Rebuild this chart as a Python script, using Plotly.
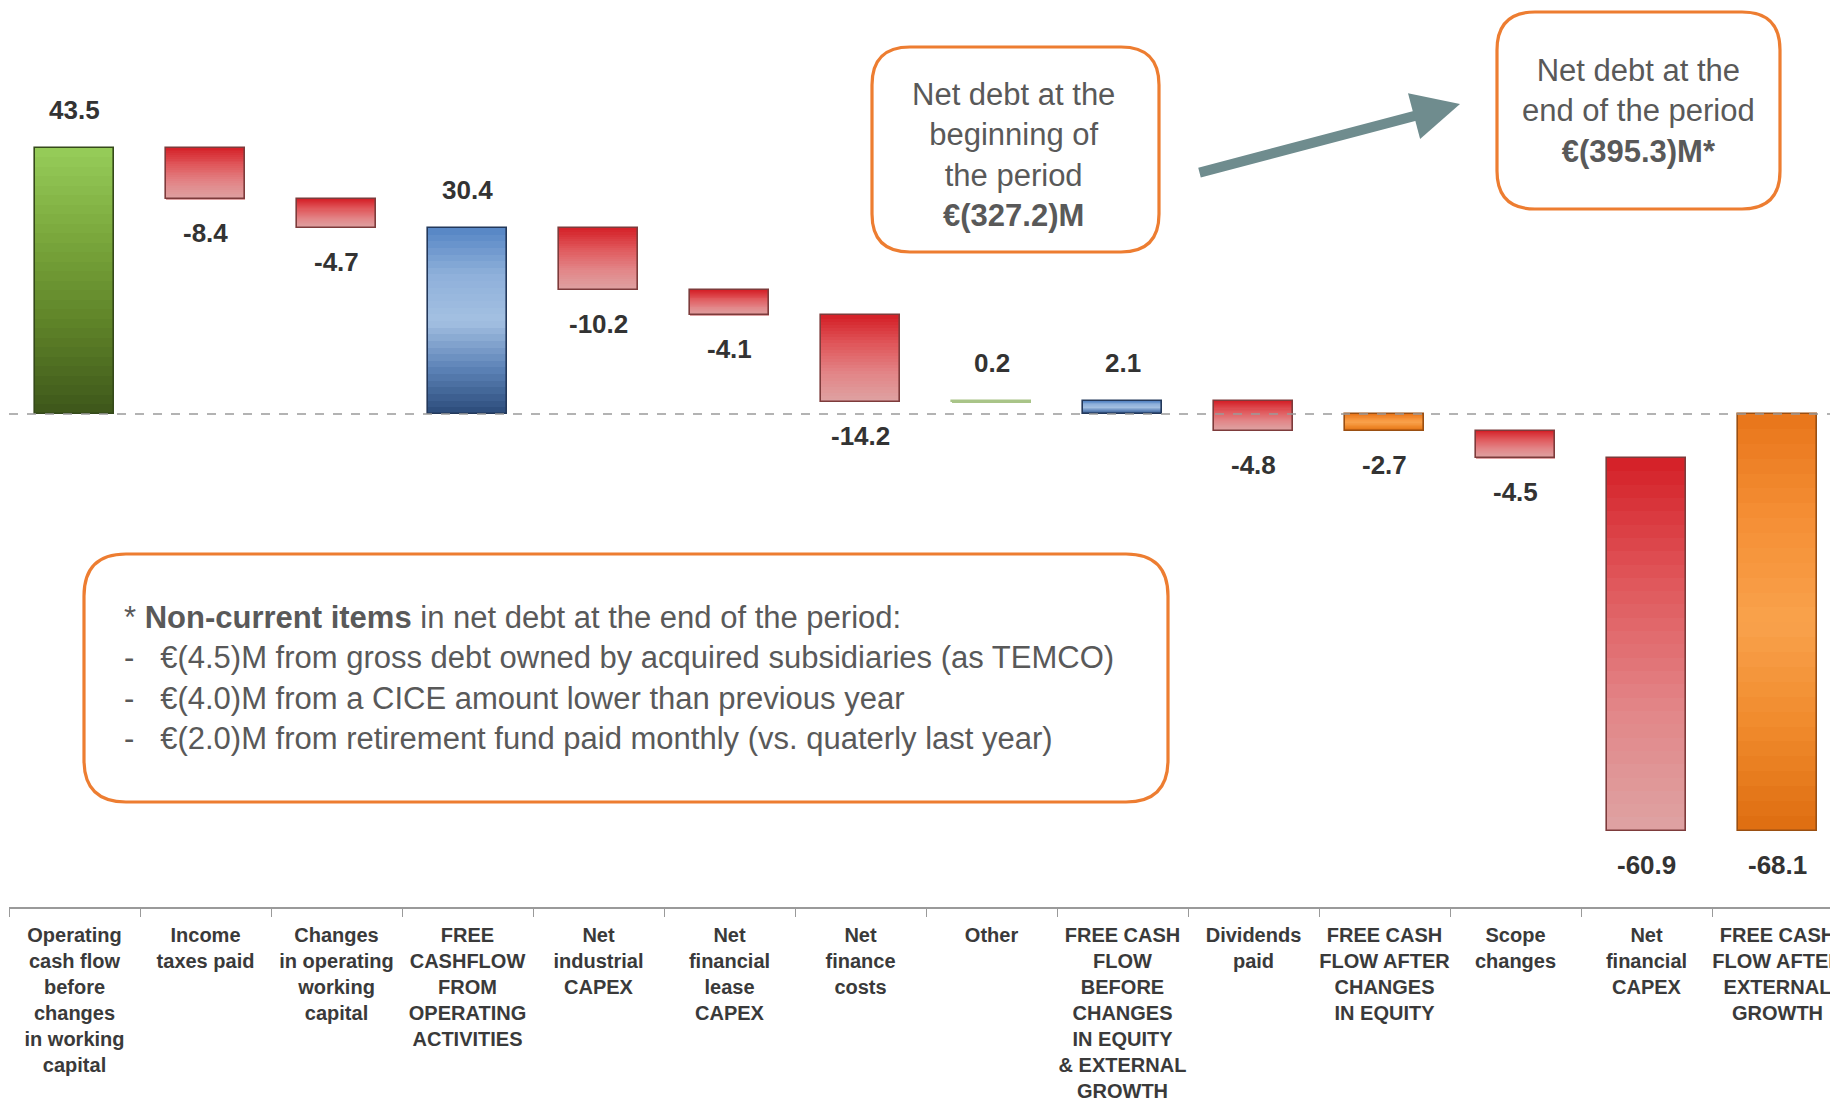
import plotly.graph_objects as go

# ---- data -------------------------------------------------------------
categories = [
    "Operating<br>cash flow<br>before<br>changes<br>in working<br>capital",
    "Income<br>taxes paid",
    "Changes<br>in operating<br>working<br>capital",
    "FREE<br>CASHFLOW<br>FROM<br>OPERATING<br>ACTIVITIES",
    "Net<br>industrial<br>CAPEX",
    "Net<br>financial<br>lease<br>CAPEX",
    "Net<br>finance<br>costs",
    "Other",
    "FREE CASH<br>FLOW<br>BEFORE<br>CHANGES<br>IN EQUITY<br>& EXTERNAL<br>GROWTH",
    "Dividends<br>paid",
    "FREE CASH<br>FLOW AFTER<br>CHANGES<br>IN EQUITY",
    "Scope<br>changes",
    "Net<br>financial<br>CAPEX",
    "FREE CASH<br>FLOW AFTER<br>EXTERNAL<br>GROWTH",
]
values = [43.5, -8.4, -4.7, 30.4, -10.2, -4.1, -14.2, 0.2, 2.1, -4.8, -2.7, -4.5, -60.9, -68.1]
measures = ["absolute", "relative", "relative", "total", "relative", "relative", "relative",
            "relative", "total", "relative", "total", "relative", "relative", "total"]
styles = ["green", "red", "red", "blue", "red", "red", "red",
          "olive", "blue", "red", "orange", "red", "red", "orange"]

# ---- palette (gradient stops from top to bottom, plus edge colour) ----
PALETTE = {
    "green":  (["#97cd5a", "#7aa83c", "#5e8228", "#3d561a"], "#34491a"),
    "red":    (["#d41f26", "#e0575b", "#e28587", "#dea3a3"], "#7d3b3b"),
    "blue":   (["#5585c4", "#8eb0da", "#a4c0e2", "#5e84b8", "#2b4b7a"], "#23385a"),
    "orange": (["#e8751a", "#f58f35", "#f9a24c", "#f08a2c", "#de6d10"], "#9a4f12"),
    "olive":  (["#a9c488", "#a9c488"], "#a9c488"),
}


def hex_rgb(h):
    h = h.lstrip("#")
    return tuple(int(h[i:i + 2], 16) for i in (0, 2, 4))


def blend(stops, t):
    if len(stops) == 1:
        return stops[0]
    pos = t * (len(stops) - 1)
    i = min(int(pos), len(stops) - 2)
    f = pos - i
    a, b = hex_rgb(stops[i]), hex_rgb(stops[i + 1])
    c = [round(a[k] + (b[k] - a[k]) * f) for k in range(3)]
    return "rgb({},{},{})".format(*c)


# ---- waterfall geometry from the values --------------------------------
bases, heights = [], []
running = 0.0
for v, m in zip(values, measures):
    if m == "relative":
        bases.append(running)
        heights.append(v)
        running += v
    else:
        bases.append(0.0)
        heights.append(v)
        running = v

tops = [max(b, b + h) for b, h in zip(bases, heights)]
bottoms = [min(b, b + h) for b, h in zip(bases, heights)]

# ---- figure -------------------------------------------------------------
W, H = 1830, 1103
ML, MR, MT, MB = 9, 0, 0, 196
PW, PH = W - ML - MR, H - MT - MB
BAR_W = 0.6
CAT_PX = 131.0

fig = go.Figure()

# vertical gradient: each layer runs from the bar bottom up to a slice top
N = 28
for k in range(N):
    t = (k + 0.5) / N
    layer_base, layer_h, layer_c = [], [], []
    for i in range(len(values)):
        span = tops[i] - bottoms[i]
        upper = tops[i] - k * span / N
        layer_base.append(bottoms[i])
        layer_h.append(upper - bottoms[i])
        layer_c.append(blend(PALETTE[styles[i]][0], t))
    fig.add_trace(go.Bar(
        x=categories, y=layer_h, base=layer_base, width=BAR_W,
        marker=dict(color=layer_c, line=dict(width=0)),
        hoverinfo="skip", showlegend=False,
    ))

# bar edges
fig.add_trace(go.Bar(
    x=categories, y=heights, base=bases, width=BAR_W,
    marker=dict(color="rgba(0,0,0,0)",
                line=dict(color=[PALETTE[s][1] for s in styles], width=1.6)),
    hovertemplate="%{x}: %{customdata}<extra></extra>",
    customdata=values, showlegend=False,
))

LABEL_FONT = "Liberation Sans Narrow, Arial Narrow, Liberation Sans, Arial"

# value labels
for i, (v, m) in enumerate(zip(values, measures)):
    above = v > 0
    fig.add_annotation(
        x=categories[i], y=tops[i] if above else bottoms[i],
        xref="x", yref="y", text=f"{v:.1f}", showarrow=False,
        yshift=38 if above else -34, yanchor="middle", xanchor="center",
        font=dict(family=LABEL_FONT, size=26, color="#333333", weight="bold"),
    )


def px_x(x):
    return (x - ML) / PW


def px_y(y):
    return (MT + PH - y) / PH


def rounded_box(x0, y0, x1, y1, r):
    """Rounded rectangle path in paper coordinates from pixel corners."""
    rx, ry = r / PW, r / PH
    a, b = px_x(x0), px_x(x1)
    top, bot = px_y(y0), px_y(y1)
    return (f"M {a + rx} {top} L {b - rx} {top} Q {b} {top} {b} {top - ry} "
            f"L {b} {bot + ry} Q {b} {bot} {b - rx} {bot} "
            f"L {a + rx} {bot} Q {a} {bot} {a} {bot + ry} "
            f"L {a} {top - ry} Q {a} {top} {a + rx} {top} Z")


BOX_LINE = dict(color="#ED7D31", width=3.2)
for (x0, y0, x1, y1, r) in [(872, 47, 1159, 252, 38),
                            (1497, 12, 1780, 209, 38),
                            (84, 554, 1168, 802, 42)]:
    fig.add_shape(type="path", path=rounded_box(x0, y0, x1, y1, r),
                  xref="paper", yref="paper", line=BOX_LINE,
                  fillcolor="rgba(255,255,255,0)", layer="above")

# zero reference line
fig.add_shape(type="line", xref="paper", yref="y", x0=0, x1=1, y0=0, y1=0,
              line=dict(color="#9a9a9a", width=1.6, dash="dash"), layer="above")

TXT = dict(family="Liberation Sans, Arial", size=31, color="#595959")
fig.add_annotation(
    x=px_x(1013), y=px_y(155), xref="paper", yref="paper", showarrow=False,
    xanchor="center", yanchor="middle",
    text="Net debt at the<br>beginning of<br>the period<br><b>€(327.2)M</b>",
    align="center", font=TXT,
)
fig.add_annotation(
    x=px_x(1638), y=px_y(111), xref="paper", yref="paper", showarrow=False,
    xanchor="center", yanchor="middle",
    text="Net debt at the<br>end of the period<br><b>€(395.3)M*</b>",
    align="center", font=TXT,
)
sp = "\u00a0"
fig.add_annotation(
    x=px_x(122), y=px_y(678), xref="paper", yref="paper", showarrow=False,
    xanchor="left", yanchor="middle", align="left", font=TXT,
    text=("* <b>Non-current items</b> in net debt at the end of the period:<br>"
          f"-{sp*3}€(4.5)M from gross debt owned by acquired subsidiaries (as TEMCO)<br>"
          f"-{sp*3}€(4.0)M from a CICE amount lower than previous year<br>"
          f"-{sp*3}€(2.0)M from retirement fund paid monthly (vs. quaterly{sp}last year)"),
)

# arrow between the two net debt boxes
fig.add_annotation(
    x=px_x(1460), y=px_y(104), xref="paper", yref="paper",
    ax=-262, ay=69, text="", showarrow=True,
    arrowhead=2, arrowsize=0.95, arrowwidth=10, arrowcolor="#6f8c8e",
)

fig.update_layout(
    width=W, height=H,
    margin=dict(l=ML, r=MR, t=MT, b=MB),
    paper_bgcolor="white", plot_bgcolor="white",
    barmode="overlay", bargap=0,
    showlegend=False,
    xaxis=dict(
        type="category", range=[-0.5, -0.5 + PW / CAT_PX],
        showgrid=False, zeroline=False,
        showline=True, linecolor="#9a9a9a", linewidth=1.6,
        ticks="outside", tickson="boundaries", ticklen=8, tickcolor="#9a9a9a", tickwidth=1.4,
        tickangle=0, automargin=False, ticklabelstandoff=9,
        tickfont=dict(family=LABEL_FONT, size=20, color="#3a3a3a", weight="bold"),
    ),
    yaxis=dict(
        range=[-(PH - 414) / (414 / 67.65), 67.65],
        visible=False, showgrid=False, zeroline=False, fixedrange=True,
    ),
)

fig.write_html("out.html")
